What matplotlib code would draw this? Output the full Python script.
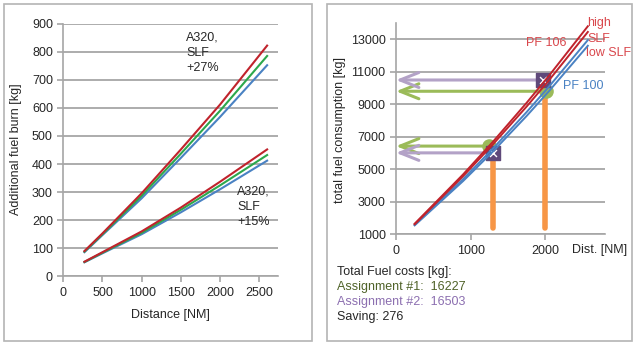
import numpy as np
import matplotlib.pyplot as plt
from matplotlib.patches import Rectangle

plt.rcParams['font.family'] = ['Liberation Sans', 'DejaVu Sans']
plt.rcParams['font.size'] = 9

# left: additional fuel burn vs distance
dist_a = [270, 500, 1000, 1500, 2000, 2600]
slf27_red = [90, 153, 296, 452, 612, 822]
slf27_green = [88, 150, 287, 437, 590, 785]
slf27_blue = [86, 147, 278, 422, 568, 752]
slf15_red = [52, 86, 160, 245, 337, 452]
slf15_green = [51, 84, 155, 237, 324, 432]
slf15_blue = [50, 82, 150, 228, 310, 412]

# right: total fuel consumption vs distance
dist_b = [250, 900, 1300, 1750, 2050, 2570]
pf106_high = [1650, 4690, 6700, 9090, 10760, 13800]
pf106_low = [1620, 4580, 6540, 8860, 10480, 13450]
pf100_high = [1580, 4400, 6280, 8520, 10090, 12950]
pf100_low = [1550, 4280, 6100, 8280, 9810, 12600]

flight_dist = [1300, 2000]
bar_base = 1400
assign1_dist = [1250, 2010]
assign1_fuel = [6427, 9800]
assign2_dist = [1300, 1970]
assign2_fuel = [6010, 10493]

RED = '#c0232c'
GREEN = '#2ca84c'
BLUE = '#4a82c3'
GRID = '#a6a6a6'
TXT = '#262626'
LGREEN = '#9bbb59'
LPURPLE = '#b3a2c7'
DPURPLE = '#5f497a'
ORANGE = '#f79646'

fig = plt.figure(figsize=(6.35, 3.45), dpi=100)

# panel frames
for x0, w in [(4, 308), (327, 305)]:
    fig.patches.append(Rectangle((x0 / 635, 4 / 345), w / 635, 337 / 345,
                                 transform=fig.transFigure, fill=False,
                                 ec='#b4b4b4', lw=1.2))


def style(ax):
    for s in ['top', 'right']:
        ax.spines[s].set_visible(False)
    for s in ['left', 'bottom']:
        ax.spines[s].set_color(GRID)
        ax.spines[s].set_linewidth(1.2)
    ax.tick_params(colors=GRID, labelcolor=TXT, length=4, width=1.2, labelsize=9)
    ax.yaxis.grid(True, color=GRID, lw=1.3)
    ax.set_axisbelow(True)


ax1 = fig.add_axes([63.3 / 635, 68.7 / 345, 214.4 / 635, 252.6 / 345])
style(ax1)
for ys, c in [(slf27_blue, BLUE), (slf27_green, GREEN), (slf27_red, RED),
              (slf15_blue, BLUE), (slf15_green, GREEN), (slf15_red, RED)]:
    ax1.plot(dist_a, ys, color=c, lw=1.5)
ax1.set_xlim(0, 2735)
ax1.set_ylim(0, 900)
ax1.set_xticks([0, 500, 1000, 1500, 2000, 2500])
ax1.set_yticks(np.arange(0, 901, 100))
ax1.text(1565, 872, 'A320,\nSLF\n+27%', va='top', ha='left', color=TXT,
         fontsize=9, linespacing=1.35)
ax1.text(2215, 322, 'A320,\nSLF\n+15%', va='top', ha='left', color=TXT,
         fontsize=9, linespacing=1.35, clip_on=False)
fig.text(16 / 635, 0.568, 'Additional fuel burn [kg]', rotation=90,
         ha='center', va='center', color=TXT, fontsize=9)
fig.text(170 / 635, 0.087, 'Distance [NM]', ha='center', va='center',
         color=TXT, fontsize=9)

ax2 = fig.add_axes([396 / 635, 110.7 / 345, 209 / 635, 211.3 / 345])
style(ax2)
ax2.set_xlim(0, 2800)
ax2.set_ylim(1000, 14000)
ax2.set_xticks([0, 1000, 2000])
ax2.set_yticks(np.arange(1000, 13001, 2000))

# flight distances
for fx, top in zip(flight_dist, np.minimum(assign1_fuel, assign2_fuel)):
    ax2.plot([fx, fx], [bar_base, top], color=ORANGE, lw=4,
             solid_capstyle='round', zorder=2)

# assignment readouts
for xs, ys, col in [(assign1_dist, assign1_fuel, LGREEN),
                    (assign2_dist, assign2_fuel, LPURPLE)]:
    for x, y in zip(xs, ys):
        ax2.annotate('', xy=(0, y), xytext=(x, y),
                     arrowprops=dict(arrowstyle='->,head_length=1.5,head_width=0.6',
                                     color=col, lw=2.2, shrinkA=0, shrinkB=0),
                     zorder=3)
ax2.scatter(assign1_dist, assign1_fuel, s=90, color=LGREEN, zorder=3)
ax2.scatter(assign2_dist, assign2_fuel, s=100, marker='s', color=DPURPLE, zorder=4)
ax2.scatter(assign2_dist, assign2_fuel, s=25, marker='x', color='white',
            lw=1, zorder=4)

for ys, c in [(pf100_low, BLUE), (pf100_high, BLUE),
              (pf106_low, RED), (pf106_high, RED)]:
    ax2.plot(dist_b, ys, color=c, lw=1.4, zorder=5)

lred = '#d9474c'
ax2.text(2555, 14000, 'high', color=lred, va='center', ha='left', clip_on=False)
ax2.text(2565, 13000, 'SLF', color=lred, va='center', ha='left', clip_on=False)
ax2.text(2540, 12140, 'low SLF', color=lred, va='center', ha='left', clip_on=False)
ax2.text(2286, 12750, 'PF 106', color=lred, va='center', ha='right')
ax2.text(2232, 10120, 'PF 100', color=BLUE, va='center', ha='left')

fig.text(340.5 / 635, 0.623, 'total fuel consumption [kg]', rotation=90,
         ha='center', va='center', color=TXT, fontsize=9)
fig.text(571.5 / 635, 0.275, 'Dist. [NM]', ha='left', va='center',
         color=TXT, fontsize=9)

rows = [('Total Fuel costs [kg]:', TXT),
        ('Assignment #1:  %d' % sum(assign1_fuel), '#4f6228'),
        ('Assignment #2:  %d' % sum(assign2_fuel), '#8c6fb0'),
        ('Saving: %d' % (sum(assign2_fuel) - sum(assign1_fuel)), TXT)]
for i, (s, c) in enumerate(rows):
    fig.text(337 / 635, (345 - (271.7 + 15.2 * i)) / 345, s, ha='left',
             va='center', color=c, fontsize=9)

fig.savefig('out.png', dpi=100)
